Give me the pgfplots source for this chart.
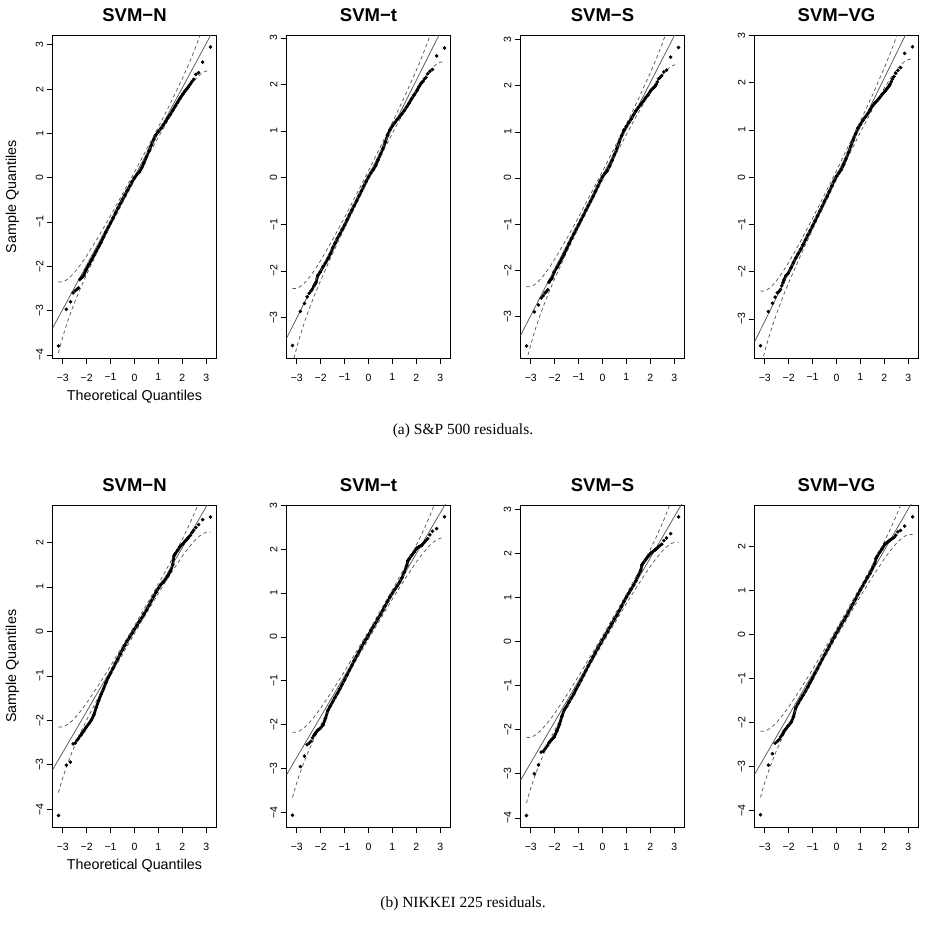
\documentclass[border=0pt]{standalone}
\usepackage{fontspec}
\setmainfont{Liberation Sans}
\newfontfamily\capfont{Liberation Serif}
\usepackage{pgfplots}
\usepackage{pgfplotstable}
\pgfplotsset{compat=1.18}

\newcommand\ticksize{\fontsize{10.5bp}{12bp}\selectfont}
\newcommand\labsize{\fontsize{14.3bp}{16bp}\selectfont}
\newcommand\titsize{\fontsize{18.5bp}{21bp}\selectfont\bfseries}

% ---------- sample quantiles (theoretical, sample) ----------
\pgfplotstableread{
x y
-3.18 -3.80
-2.85 -2.97
-2.68 -2.80
-2.566 -2.60
-2.477 -2.55
-2.405 -2.52
-2.343 -2.49
-2.289 -2.30
-2.241 -2.27
-2.198 -2.25
-2.122 -2.20
-2.027 -2.08
-1.901 -1.96
-1.8 -1.86
-1.7 -1.76
-1.6 -1.66
-1.5 -1.56
-1.4 -1.46
-1.3 -1.34
-1.2 -1.23
-1.1 -1.12
-1.0 -1.02
-0.9 -0.91
-0.8 -0.80
-0.7 -0.69
-0.6 -0.59
-0.5 -0.49
-0.4 -0.39
-0.3 -0.29
-0.2 -0.19
-0.1 -0.09
0 0.0
0.1 0.07
0.2 0.13
0.3 0.22
0.4 0.34
0.5 0.47
0.6 0.60
0.7 0.73
0.8 0.86
0.9 0.97
1.0 1.04
1.1 1.11
1.2 1.19
1.3 1.27
1.4 1.35
1.5 1.43
1.6 1.52
1.7 1.61
1.8 1.70
1.901 1.79
2.027 1.89
2.122 1.96
2.198 2.01
2.241 2.04
2.289 2.08
2.343 2.12
2.405 2.17
2.477 2.22
2.566 2.33
2.68 2.37
2.85 2.61
3.18 2.95
}\ptsAa

\pgfplotstableread{
x y
-3.18 -3.60
-2.85 -2.87
-2.68 -2.70
-2.566 -2.56
-2.477 -2.48
-2.405 -2.43
-2.343 -2.39
-2.289 -2.33
-2.241 -2.29
-2.198 -2.25
-2.122 -2.10
-2.027 -2.03
-1.901 -1.91
-1.8 -1.83
-1.7 -1.74
-1.6 -1.64
-1.5 -1.51
-1.4 -1.41
-1.3 -1.30
-1.2 -1.21
-1.1 -1.11
-1.0 -1.02
-0.9 -0.91
-0.8 -0.80
-0.7 -0.70
-0.6 -0.60
-0.5 -0.50
-0.4 -0.39
-0.3 -0.29
-0.2 -0.18
-0.1 -0.08
0 0.02
0.1 0.10
0.2 0.17
0.3 0.26
0.4 0.38
0.5 0.50
0.6 0.62
0.7 0.76
0.8 0.91
0.9 1.03
1.0 1.11
1.1 1.18
1.2 1.25
1.3 1.31
1.4 1.37
1.5 1.44
1.6 1.52
1.7 1.60
1.8 1.69
1.901 1.77
2.027 1.87
2.122 1.96
2.198 2.02
2.241 2.05
2.289 2.07
2.343 2.12
2.405 2.15
2.477 2.23
2.566 2.28
2.68 2.32
2.85 2.61
3.18 2.78
}\ptsAb

\pgfplotstableread{
x y
-3.18 -3.64
-2.85 -2.90
-2.68 -2.75
-2.566 -2.60
-2.477 -2.55
-2.405 -2.49
-2.343 -2.46
-2.289 -2.42
-2.241 -2.26
-2.198 -2.22
-2.122 -2.18
-2.027 -2.04
-1.901 -1.93
-1.8 -1.84
-1.7 -1.74
-1.6 -1.64
-1.5 -1.53
-1.4 -1.42
-1.3 -1.31
-1.2 -1.21
-1.1 -1.11
-1.0 -1.01
-0.9 -0.91
-0.8 -0.81
-0.7 -0.70
-0.6 -0.60
-0.5 -0.50
-0.4 -0.40
-0.3 -0.29
-0.2 -0.18
-0.1 -0.07
0 0.03
0.1 0.10
0.2 0.16
0.3 0.26
0.4 0.38
0.5 0.51
0.6 0.64
0.7 0.78
0.8 0.92
0.9 1.04
1.0 1.12
1.1 1.20
1.2 1.28
1.3 1.37
1.4 1.46
1.5 1.53
1.6 1.60
1.7 1.66
1.8 1.74
1.901 1.80
2.027 1.90
2.122 1.95
2.198 1.99
2.241 2.03
2.289 2.08
2.343 2.15
2.405 2.18
2.477 2.22
2.566 2.30
2.68 2.34
2.85 2.62
3.18 2.83
}\ptsAc

\pgfplotstableread{
x y
-3.18 -3.57
-2.85 -2.85
-2.68 -2.67
-2.566 -2.54
-2.477 -2.45
-2.405 -2.42
-2.343 -2.38
-2.289 -2.30
-2.241 -2.24
-2.198 -2.18
-2.122 -2.09
-2.027 -2.04
-1.901 -1.92
-1.8 -1.81
-1.7 -1.71
-1.6 -1.62
-1.5 -1.53
-1.4 -1.43
-1.3 -1.33
-1.2 -1.23
-1.1 -1.13
-1.0 -1.03
-0.9 -0.93
-0.8 -0.82
-0.7 -0.72
-0.6 -0.62
-0.5 -0.51
-0.4 -0.41
-0.3 -0.30
-0.2 -0.19
-0.1 -0.08
0 0.02
0.1 0.09
0.2 0.16
0.3 0.27
0.4 0.39
0.5 0.52
0.6 0.66
0.7 0.79
0.8 0.92
0.9 1.04
1.0 1.12
1.1 1.20
1.2 1.27
1.3 1.34
1.4 1.42
1.5 1.51
1.6 1.57
1.7 1.62
1.8 1.68
1.901 1.75
2.027 1.82
2.122 1.88
2.198 1.93
2.241 1.97
2.289 2.02
2.343 2.08
2.405 2.13
2.477 2.20
2.566 2.26
2.68 2.32
2.85 2.62
3.18 2.76
}\ptsAd

\pgfplotstableread{
x y
-3.18 -4.14
-2.85 -3.01
-2.68 -2.94
-2.566 -2.53
-2.477 -2.51
-2.405 -2.45
-2.343 -2.41
-2.289 -2.36
-2.241 -2.33
-2.198 -2.29
-2.122 -2.24
-2.027 -2.16
-1.901 -2.07
-1.8 -1.99
-1.7 -1.88
-1.6 -1.71
-1.5 -1.56
-1.4 -1.42
-1.3 -1.30
-1.2 -1.16
-1.1 -1.04
-1.0 -0.94
-0.9 -0.83
-0.8 -0.72
-0.7 -0.62
-0.6 -0.51
-0.5 -0.41
-0.4 -0.31
-0.3 -0.21
-0.2 -0.13
-0.1 -0.04
0 0.05
0.1 0.13
0.2 0.22
0.3 0.30
0.4 0.39
0.5 0.48
0.6 0.58
0.7 0.68
0.8 0.78
0.9 0.88
1.0 0.97
1.1 1.05
1.2 1.11
1.3 1.17
1.4 1.25
1.5 1.35
1.6 1.50
1.65 1.70
1.7 1.74
1.8 1.82
1.901 1.90
2.027 1.97
2.122 2.03
2.198 2.07
2.241 2.10
2.289 2.13
2.343 2.16
2.405 2.22
2.477 2.27
2.566 2.33
2.68 2.40
2.85 2.51
3.18 2.57
}\ptsBa

\pgfplotstableread{
x y
-3.18 -4.07
-2.85 -2.96
-2.68 -2.72
-2.566 -2.46
-2.477 -2.42
-2.405 -2.38
-2.343 -2.30
-2.289 -2.25
-2.241 -2.22
-2.198 -2.18
-2.122 -2.13
-2.027 -2.09
-1.901 -2.01
-1.8 -1.86
-1.7 -1.68
-1.6 -1.58
-1.5 -1.48
-1.4 -1.38
-1.3 -1.29
-1.2 -1.19
-1.1 -1.08
-1.0 -0.98
-0.9 -0.87
-0.8 -0.76
-0.7 -0.65
-0.6 -0.54
-0.5 -0.44
-0.4 -0.34
-0.3 -0.24
-0.2 -0.14
-0.1 -0.05
0 0.04
0.1 0.14
0.2 0.23
0.3 0.32
0.4 0.42
0.5 0.51
0.6 0.61
0.7 0.71
0.8 0.81
0.9 0.91
1.0 1.00
1.1 1.08
1.2 1.16
1.3 1.25
1.4 1.35
1.5 1.48
1.6 1.63
1.65 1.74
1.7 1.78
1.8 1.86
1.901 1.93
2.027 2.03
2.122 2.06
2.198 2.08
2.241 2.10
2.289 2.13
2.343 2.16
2.405 2.20
2.477 2.24
2.566 2.33
2.68 2.41
2.85 2.47
3.18 2.74
}\ptsBb

\pgfplotstableread{
x y
-3.18 -3.95
-2.85 -3.00
-2.68 -2.80
-2.566 -2.51
-2.477 -2.49
-2.405 -2.44
-2.343 -2.39
-2.289 -2.35
-2.241 -2.30
-2.198 -2.27
-2.122 -2.22
-2.027 -2.17
-1.901 -2.02
-1.8 -1.88
-1.7 -1.70
-1.6 -1.55
-1.5 -1.47
-1.4 -1.37
-1.3 -1.28
-1.2 -1.19
-1.1 -1.08
-1.0 -0.98
-0.9 -0.88
-0.8 -0.77
-0.7 -0.66
-0.6 -0.55
-0.5 -0.45
-0.4 -0.35
-0.3 -0.25
-0.2 -0.15
-0.1 -0.06
0 0.04
0.1 0.13
0.2 0.22
0.3 0.32
0.4 0.41
0.5 0.51
0.6 0.60
0.7 0.70
0.8 0.80
0.9 0.91
1.0 1.01
1.1 1.10
1.2 1.19
1.3 1.28
1.4 1.38
1.5 1.50
1.6 1.62
1.65 1.74
1.7 1.78
1.8 1.86
1.901 1.93
2.027 2.01
2.122 2.05
2.198 2.08
2.241 2.10
2.289 2.12
2.343 2.15
2.405 2.18
2.477 2.21
2.566 2.29
2.68 2.35
2.85 2.45
3.18 2.83
}\ptsBc

\pgfplotstableread{
x y
-3.18 -4.10
-2.85 -2.97
-2.68 -2.71
-2.566 -2.47
-2.477 -2.43
-2.405 -2.39
-2.343 -2.33
-2.289 -2.29
-2.241 -2.25
-2.198 -2.20
-2.122 -2.15
-2.027 -2.08
-1.901 -2.00
-1.8 -1.87
-1.7 -1.66
-1.6 -1.56
-1.5 -1.47
-1.4 -1.38
-1.3 -1.29
-1.2 -1.19
-1.1 -1.09
-1.0 -0.99
-0.9 -0.88
-0.8 -0.78
-0.7 -0.67
-0.6 -0.56
-0.5 -0.46
-0.4 -0.36
-0.3 -0.26
-0.2 -0.16
-0.1 -0.06
0 0.04
0.1 0.13
0.2 0.23
0.3 0.32
0.4 0.41
0.5 0.51
0.6 0.61
0.7 0.71
0.8 0.81
0.9 0.92
1.0 1.02
1.1 1.11
1.2 1.21
1.3 1.30
1.4 1.39
1.5 1.50
1.6 1.62
1.65 1.73
1.7 1.78
1.8 1.87
1.901 1.95
2.027 2.06
2.122 2.10
2.198 2.13
2.241 2.15
2.289 2.17
2.343 2.19
2.405 2.21
2.477 2.26
2.566 2.34
2.68 2.37
2.85 2.47
3.18 2.68
}\ptsBd

% ---------- pointwise confidence envelopes (theoretical, upper, lower) ----------
\pgfplotstableread{
x up lo
-3.18 -2.348 -3.952
-3.1 -2.355 -3.786
-3.0 -2.347 -3.593
-2.9 -2.325 -3.415
-2.8 -2.290 -3.251
-2.7 -2.246 -3.094
-2.6 -2.193 -2.947
-2.5 -2.133 -2.807
-2.25 -1.960 -2.480
-2.0 -1.762 -2.178
-1.5 -1.325 -1.615
-1.0 -0.857 -1.084
0 0.124 -0.064
1.0 1.144 0.917
1.5 1.675 1.385
2.0 2.238 1.822
2.25 2.540 2.020
2.5 2.867 2.193
2.6 3.007 2.253
2.7 3.154 2.306
2.8 3.311 2.350
2.9 3.475 2.385
3.0 3.653 2.407
3.1 3.846 2.415
3.18 4.012 2.408
}\bandAa

\pgfplotstableread{
x up lo
-3.18 -2.375 -4.012
-3.1 -2.382 -3.842
-3.0 -2.375 -3.645
-2.9 -2.352 -3.464
-2.8 -2.316 -3.296
-2.7 -2.272 -3.137
-2.6 -2.218 -2.986
-2.5 -2.156 -2.844
-2.25 -1.980 -2.510
-2.0 -1.778 -2.202
-1.5 -1.332 -1.628
-1.0 -0.854 -1.086
0 0.146 -0.046
1.0 1.186 0.954
1.5 1.728 1.432
2.0 2.302 1.878
2.25 2.610 2.080
2.5 2.944 2.256
2.6 3.086 2.318
2.7 3.237 2.372
2.8 3.396 2.416
2.9 3.564 2.452
3.0 3.745 2.475
3.1 3.942 2.482
3.18 4.112 2.475
}\bandAb

\pgfplotstableread{
x up lo
-3.18 -2.351 -3.972
-3.1 -2.358 -3.804
-3.0 -2.351 -3.609
-2.9 -2.329 -3.430
-2.8 -2.293 -3.263
-2.7 -2.249 -3.105
-2.6 -2.195 -2.957
-2.5 -2.135 -2.815
-2.25 -1.960 -2.485
-2.0 -1.760 -2.180
-1.5 -1.319 -1.611
-1.0 -0.845 -1.075
0 0.145 -0.045
1.0 1.175 0.945
1.5 1.711 1.419
2.0 2.280 1.860
2.25 2.585 2.060
2.5 2.915 2.235
2.6 3.057 2.295
2.7 3.205 2.349
2.8 3.363 2.393
2.9 3.530 2.429
3.0 3.709 2.451
3.1 3.904 2.458
3.18 4.072 2.451
}\bandAc

\pgfplotstableread{
x up lo
-3.18 -2.409 -4.062
-3.1 -2.416 -3.890
-3.0 -2.409 -3.692
-2.9 -2.386 -3.508
-2.8 -2.349 -3.339
-2.7 -2.304 -3.178
-2.6 -2.250 -3.026
-2.5 -2.188 -2.882
-2.25 -2.010 -2.545
-2.0 -1.806 -2.234
-1.5 -1.356 -1.654
-1.0 -0.873 -1.107
0 0.137 -0.057
1.0 1.187 0.953
1.5 1.734 1.436
2.0 2.314 1.886
2.25 2.625 2.090
2.5 2.962 2.268
2.6 3.106 2.330
2.7 3.258 2.384
2.8 3.419 2.429
2.9 3.588 2.466
3.0 3.772 2.489
3.1 3.970 2.496
3.18 4.142 2.489
}\bandAd

\pgfplotstableread{
x up lo
-3.18 -2.147 -3.624
-3.1 -2.154 -3.470
-3.0 -2.147 -3.293
-2.9 -2.127 -3.129
-2.8 -2.094 -2.978
-2.7 -2.054 -2.834
-2.6 -2.005 -2.699
-2.5 -1.950 -2.570
-2.25 -1.791 -2.269
-2.0 -1.609 -1.991
-1.5 -1.207 -1.473
-1.0 -0.776 -0.984
0 0.127 -0.047
1.0 1.064 0.856
1.5 1.553 1.287
2.0 2.071 1.689
2.25 2.349 1.871
2.5 2.650 2.030
2.6 2.779 2.085
2.7 2.914 2.134
2.8 3.058 2.174
2.9 3.209 2.207
3.0 3.373 2.227
3.1 3.550 2.234
3.18 3.704 2.227
}\bandBa

\pgfplotstableread{
x up lo
-3.18 -2.171 -3.664
-3.1 -2.178 -3.508
-3.0 -2.171 -3.329
-2.9 -2.150 -3.164
-2.8 -2.117 -3.011
-2.7 -2.077 -2.865
-2.6 -2.028 -2.729
-2.5 -1.972 -2.598
-2.25 -1.811 -2.294
-2.0 -1.627 -2.013
-1.5 -1.220 -1.490
-1.0 -0.784 -0.996
0 0.128 -0.048
1.0 1.076 0.864
1.5 1.570 1.300
2.0 2.093 1.707
2.25 2.374 1.891
2.5 2.678 2.052
2.6 2.809 2.108
2.7 2.945 2.157
2.8 3.091 2.197
2.9 3.244 2.230
3.0 3.409 2.251
3.1 3.588 2.258
3.18 3.744 2.251
}\bandBb

\pgfplotstableread{
x up lo
-3.18 -2.195 -3.704
-3.1 -2.201 -3.547
-3.0 -2.195 -3.365
-2.9 -2.174 -3.198
-2.8 -2.140 -3.044
-2.7 -2.099 -2.897
-2.6 -2.050 -2.758
-2.5 -1.993 -2.627
-2.25 -1.831 -2.320
-2.0 -1.645 -2.035
-1.5 -1.234 -1.506
-1.0 -0.793 -1.007
0 0.129 -0.049
1.0 1.087 0.873
1.5 1.586 1.314
2.0 2.115 1.725
2.25 2.400 1.910
2.5 2.707 2.073
2.6 2.838 2.129
2.7 2.977 2.179
2.8 3.124 2.219
2.9 3.278 2.254
3.0 3.445 2.275
3.1 3.627 2.282
3.18 3.784 2.275
}\bandBd

\pgfplotsset{
  qqaxis/.style={
    scale only axis, width=164bp, height=322.5bp, anchor=south west,
    xmin=-3.43, xmax=3.43,
    xtick={-3,-2,-1,0,1,2,3},
    xticklabels={−3,−2,−1,0,1,2,3},
    tick pos=left, tick align=outside,
    major tick length=6bp,
    every tick/.append style={black, line width=0.6bp},
    axis line style={line width=0.9bp, black},
    xticklabel style={font=\ticksize, anchor=north, inner sep=0pt, yshift=-9.5bp},
    yticklabel style={font=\ticksize, inner sep=0pt, anchor=south, xshift=-3bp, rotate=90},
    every axis title/.style={at={(axis description cs:0.5,1.0428)}, anchor=base, font=\titsize},
    every axis x label/.style={at={(axis description cs:0.5,-0.1194)}, anchor=center, font=\labsize},
    every axis y label/.style={at={(axis description cs:-0.2439,0.5)}, rotate=90, anchor=center, font=\labsize},
  },
  qqdense/.style={black, line width=2.8bp, line join=round, line cap=round, restrict x to domain=-2.25:2.25},
  qqpts/.style={only marks, mark=*, mark size=1.6bp, black},
  qqref/.style={black!65, line width=0.75bp},
  qqband/.style={black!65, line width=0.75bp, dash pattern=on 3.5bp off 3bp},
}

\begin{document}
\begin{tikzpicture}
\useasboundingbox (0,0) rectangle (926bp,927bp);

% ===== S&P 500 =====
\begin{axis}[qqaxis, at={(52.5bp,569bp)}, ymin=-4.07, ymax=3.21,
  ytick={-4,-3,-2,-1,0,1,2,3}, yticklabels={−4,−3,−2,−1,0,1,2,3},
  title={SVM−N}, xlabel={Theoretical Quantiles}, ylabel={Sample Quantiles}]
\addplot[qqdense] table {\ptsAa};
\addplot[qqpts] table {\ptsAa};
\addplot[qqref] coordinates {(-3.6,-3.57) (3.6,3.63)};
\addplot[qqband] table[y=up] {\bandAa};
\addplot[qqband] table[y=lo] {\bandAa};
\end{axis}

\begin{axis}[qqaxis, at={(286.5bp,569bp)}, ymin=-3.87, ymax=3.05,
  ytick={-3,-2,-1,0,1,2,3}, yticklabels={−3,−2,−1,0,1,2,3},
  title={SVM−t}]
\addplot[qqdense] table {\ptsAb};
\addplot[qqpts] table {\ptsAb};
\addplot[qqref] coordinates {(-3.6,-3.622) (3.6,3.722)};
\addplot[qqband] table[y=up] {\bandAb};
\addplot[qqband] table[y=lo] {\bandAb};
\end{axis}

\begin{axis}[qqaxis, at={(520.5bp,569bp)}, ymin=-3.90, ymax=3.09,
  ytick={-3,-2,-1,0,1,2,3}, yticklabels={−3,−2,−1,0,1,2,3},
  title={SVM−S}]
\addplot[qqdense] table {\ptsAc};
\addplot[qqpts] table {\ptsAc};
\addplot[qqref] coordinates {(-3.6,-3.586) (3.6,3.686)};
\addplot[qqband] table[y=up] {\bandAc};
\addplot[qqband] table[y=lo] {\bandAc};
\end{axis}

\begin{axis}[qqaxis, at={(754.5bp,569bp)}, ymin=-3.83, ymax=3.00,
  ytick={-3,-2,-1,0,1,2,3}, yticklabels={−3,−2,−1,0,1,2,3},
  title={SVM−VG}]
\addplot[qqdense] table {\ptsAd};
\addplot[qqpts] table {\ptsAd};
\addplot[qqref] coordinates {(-3.6,-3.668) (3.6,3.748)};
\addplot[qqband] table[y=up] {\bandAd};
\addplot[qqband] table[y=lo] {\bandAd};
\end{axis}

\node[font=\capfont\fontsize{15.5bp}{18bp}\selectfont] at (463bp,496bp) {(a) S\&P 500 residuals.};

% ===== NIKKEI 225 =====
\begin{axis}[qqaxis, at={(52.5bp,99.5bp)}, ymin=-4.41, ymax=2.84,
  ytick={-4,-3,-2,-1,0,1,2}, yticklabels={−4,−3,−2,−1,0,1,2},
  title={SVM−N}, xlabel={Theoretical Quantiles}, ylabel={Sample Quantiles}]
\addplot[qqdense] table {\ptsBa};
\addplot[qqpts] table {\ptsBa};
\addplot[qqref] coordinates {(-3.6,-3.272) (3.6,3.352)};
\addplot[qqband] table[y=up] {\bandBa};
\addplot[qqband] table[y=lo] {\bandBa};
\end{axis}

\begin{axis}[qqaxis, at={(286.5bp,99.5bp)}, ymin=-4.35, ymax=3.01,
  ytick={-4,-3,-2,-1,0,1,2,3}, yticklabels={−4,−3,−2,−1,0,1,2,3},
  title={SVM−t}]
\addplot[qqdense] table {\ptsBb};
\addplot[qqpts] table {\ptsBb};
\addplot[qqref] coordinates {(-3.6,-3.308) (3.6,3.388)};
\addplot[qqband] table[y=up] {\bandBb};
\addplot[qqband] table[y=lo] {\bandBb};
\end{axis}

\begin{axis}[qqaxis, at={(520.5bp,99.5bp)}, ymin=-4.22, ymax=3.10,
  ytick={-4,-3,-2,-1,0,1,2,3}, yticklabels={−4,−3,−2,−1,0,1,2,3},
  title={SVM−S}]
\addplot[qqdense] table {\ptsBc};
\addplot[qqpts] table {\ptsBc};
\addplot[qqref] coordinates {(-3.6,-3.308) (3.6,3.388)};
\addplot[qqband] table[y=up] {\bandBb};
\addplot[qqband] table[y=lo] {\bandBb};
\end{axis}

\begin{axis}[qqaxis, at={(754.5bp,99.5bp)}, ymin=-4.39, ymax=2.95,
  ytick={-4,-3,-2,-1,0,1,2}, yticklabels={−4,−3,−2,−1,0,1,2},
  title={SVM−VG}]
\addplot[qqdense] table {\ptsBd};
\addplot[qqpts] table {\ptsBd};
\addplot[qqref] coordinates {(-3.6,-3.344) (3.6,3.424)};
\addplot[qqband] table[y=up] {\bandBd};
\addplot[qqband] table[y=lo] {\bandBd};
\end{axis}

\node[font=\capfont\fontsize{15.5bp}{18bp}\selectfont] at (463bp,23bp) {(b) NIKKEI 225 residuals.};
\end{tikzpicture}
\end{document}
